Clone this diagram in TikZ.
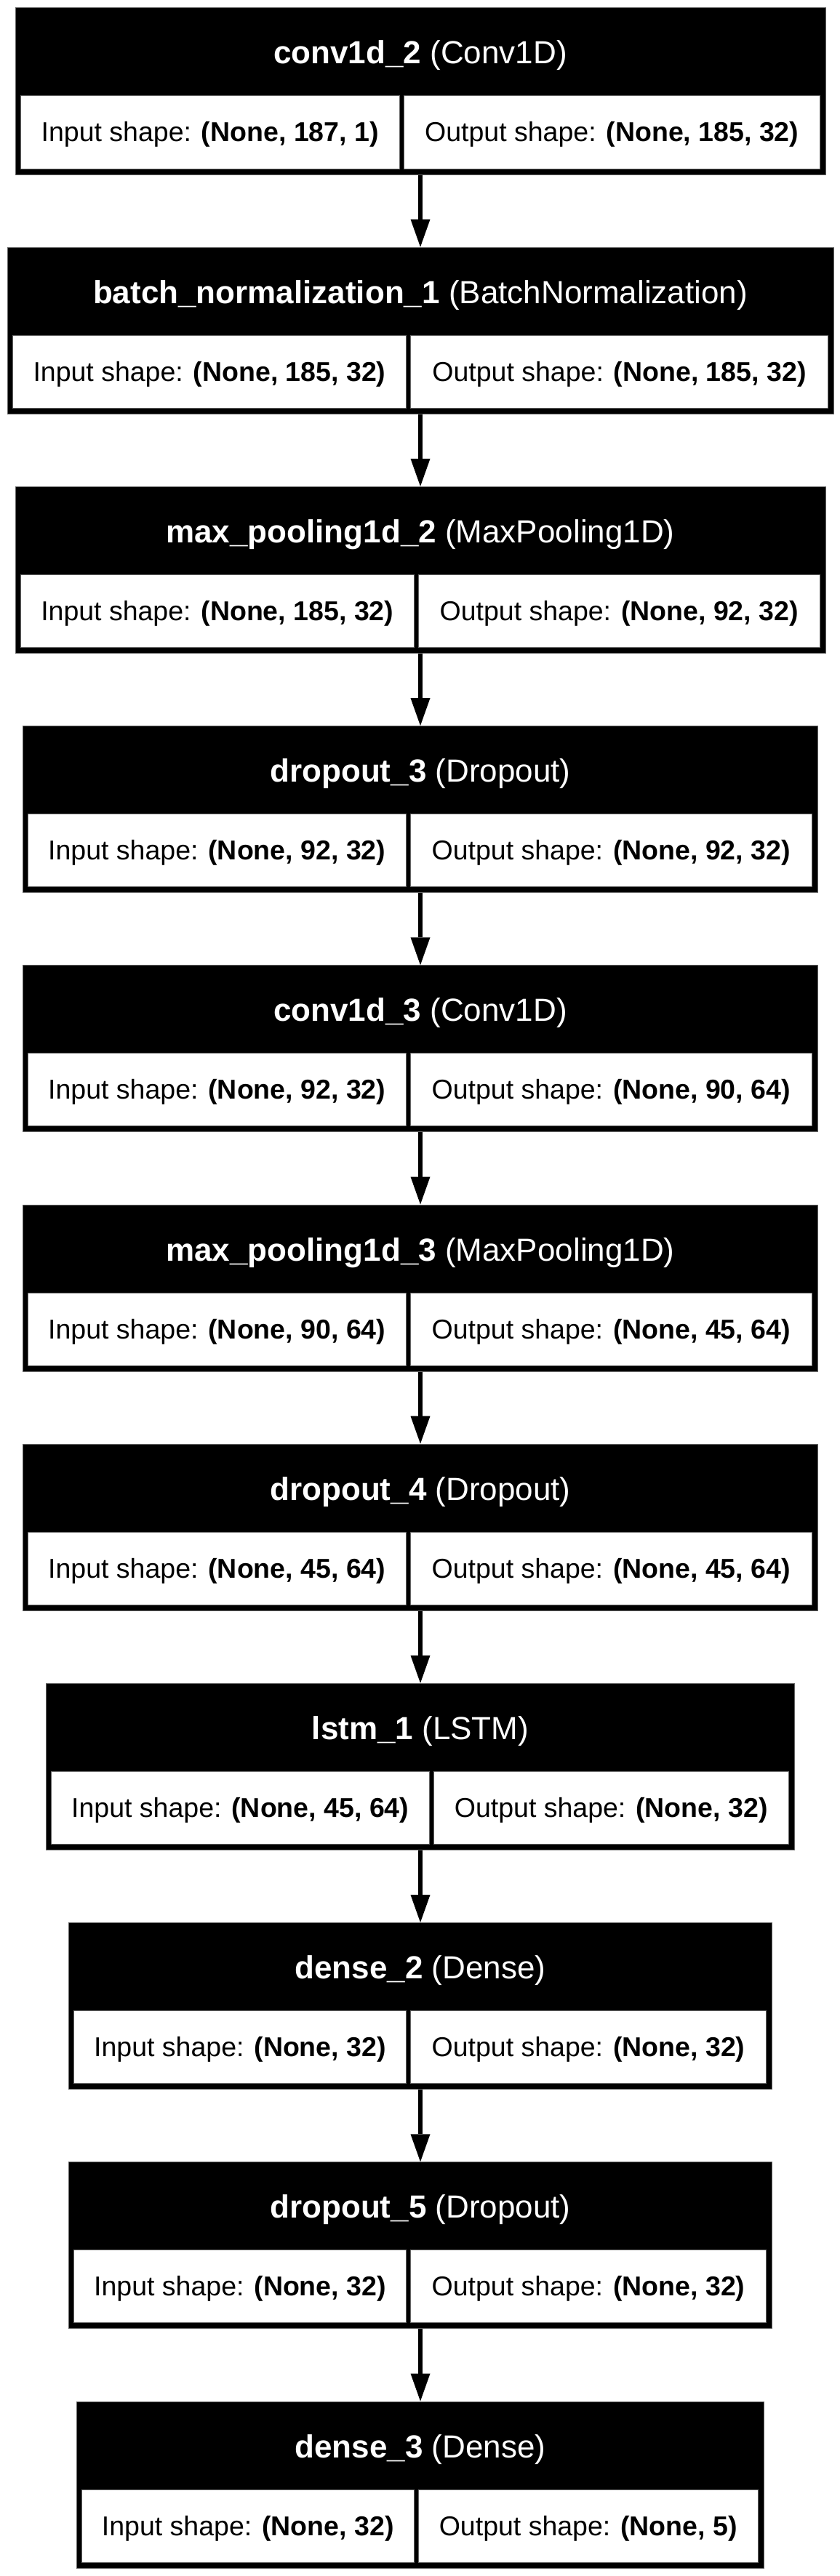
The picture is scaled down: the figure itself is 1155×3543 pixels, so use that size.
\documentclass[tikz,border=0pt]{standalone}
\usepackage{fontspec}
\setmainfont{Liberation Sans}
\usetikzlibrary{arrows.meta}
\begin{document}
\begin{tikzpicture}[x=1pt, y=-1pt]
	\tikzstyle{layer} = [rectangle, fill=black, draw=black!60, line width=1pt, minimum height=229pt, inner sep=0pt]
	\tikzstyle{title} = [text=white, inner sep=0pt, text height=32pt, text depth=0pt, font=\fontsize{44}{53}\selectfont]
	\tikzstyle{cell} = [rectangle, fill=white, draw=black!60, line width=1pt, minimum height=100pt, inner xsep=10pt, text height=27pt, text depth=1pt, font=\fontsize{37.5}{45}\selectfont]
	\tikzstyle{incell} = [cell, anchor=west]
	\tikzstyle{outcell} = [cell, anchor=east]
	\path[use as bounding box, fill=white] (0,0) rectangle (1155,3543);
	\node[layer, minimum width=1114pt] (conv2) at (578,125.5) {};
	\node[title] (conv2name) at (578,72) {\textbf{conv1d\_2} (Conv1D)};
	\node[incell, minimum width=520.5pt] (conv2in) at (28,182) {Input shape: \textbf{(None, 187, 1)}};
	\node[outcell, minimum width=572.5pt] (conv2out) at (1128,182) {Output shape: \textbf{(None, 185, 32)}};
	\node[layer, minimum width=1136pt] (bn1) at (578,454.7) {};
	\node[title] (bn1name) at (578,401.2) {\textbf{batch\_normalization\_1} (BatchNormalization)};
	\node[incell, minimum width=541pt] (bn1in) at (17,511.2) {Input shape: \textbf{(None, 185, 32)}};
	\node[outcell, minimum width=574pt] (bn1out) at (1139,511.2) {Output shape: \textbf{(None, 185, 32)}};
	\node[layer, minimum width=1114pt] (pool2) at (578,783.9) {};
	\node[title] (pool2name) at (578,730.4) {\textbf{max\_pooling1d\_2} (MaxPooling1D)};
	\node[incell, minimum width=540.5pt] (pool2in) at (28,840.4) {Input shape: \textbf{(None, 185, 32)}};
	\node[outcell, minimum width=552.5pt] (pool2out) at (1128,840.4) {Output shape: \textbf{(None, 92, 32)}};
	\node[layer, minimum width=1093pt] (drop3) at (578,1113.1) {};
	\node[title] (drop3name) at (578,1059.6) {\textbf{dropout\_3} (Dropout)};
	\node[incell, minimum width=519.5pt] (drop3in) at (38,1169.6) {Input shape: \textbf{(None, 92, 32)}};
	\node[outcell, minimum width=552.5pt] (drop3out) at (1117,1169.6) {Output shape: \textbf{(None, 92, 32)}};
	\node[layer, minimum width=1093pt] (conv3) at (578,1442.3) {};
	\node[title] (conv3name) at (578,1388.8) {\textbf{conv1d\_3} (Conv1D)};
	\node[incell, minimum width=519.5pt] (conv3in) at (38,1498.8) {Input shape: \textbf{(None, 92, 32)}};
	\node[outcell, minimum width=552.5pt] (conv3out) at (1117,1498.8) {Output shape: \textbf{(None, 90, 64)}};
	\node[layer, minimum width=1093pt] (pool3) at (578,1771.5) {};
	\node[title] (pool3name) at (578,1718) {\textbf{max\_pooling1d\_3} (MaxPooling1D)};
	\node[incell, minimum width=519.5pt] (pool3in) at (38,1828) {Input shape: \textbf{(None, 90, 64)}};
	\node[outcell, minimum width=552.5pt] (pool3out) at (1117,1828) {Output shape: \textbf{(None, 45, 64)}};
	\node[layer, minimum width=1093pt] (drop4) at (578,2100.7) {};
	\node[title] (drop4name) at (578,2047.2) {\textbf{dropout\_4} (Dropout)};
	\node[incell, minimum width=519.5pt] (drop4in) at (38,2157.2) {Input shape: \textbf{(None, 45, 64)}};
	\node[outcell, minimum width=552.5pt] (drop4out) at (1117,2157.2) {Output shape: \textbf{(None, 45, 64)}};
	\node[layer, minimum width=1029pt] (lstm1) at (578,2429.9) {};
	\node[title] (lstm1name) at (578,2376.4) {\textbf{lstm\_1} (LSTM)};
	\node[incell, minimum width=519.5pt] (lstm1in) at (70,2486.4) {Input shape: \textbf{(None, 45, 64)}};
	\node[outcell, minimum width=488.5pt] (lstm1out) at (1085,2486.4) {Output shape: \textbf{(None, 32)}};
	\node[layer, minimum width=967pt] (dense2) at (578,2759.1) {};
	\node[title] (dense2name) at (578,2705.6) {\textbf{dense\_2} (Dense)};
	\node[incell, minimum width=457pt] (dense2in) at (101,2815.6) {Input shape: \textbf{(None, 32)}};
	\node[outcell, minimum width=489pt] (dense2out) at (1054,2815.6) {Output shape: \textbf{(None, 32)}};
	\node[layer, minimum width=967pt] (drop5) at (578,3088.3) {};
	\node[title] (drop5name) at (578,3034.8) {\textbf{dropout\_5} (Dropout)};
	\node[incell, minimum width=457pt] (drop5in) at (101,3144.8) {Input shape: \textbf{(None, 32)}};
	\node[outcell, minimum width=489pt] (drop5out) at (1054,3144.8) {Output shape: \textbf{(None, 32)}};
	\node[layer, minimum width=945pt] (dense3) at (578,3417.5) {};
	\node[title] (dense3name) at (578,3364) {\textbf{dense\_3} (Dense)};
	\node[incell, minimum width=456.5pt] (dense3in) at (112,3474) {Input shape: \textbf{(None, 32)}};
	\node[outcell, minimum width=467.5pt] (dense3out) at (1043,3474) {Output shape: \textbf{(None, 5)}};
	\path[-{Triangle[length=38pt, width=27pt, line width=0pt]}, line width=6pt] (conv2) edge (bn1)
	(bn1) edge (pool2)
	(pool2) edge (drop3)
	(drop3) edge (conv3)
	(conv3) edge (pool3)
	(pool3) edge (drop4)
	(drop4) edge (lstm1)
	(lstm1) edge (dense2)
	(dense2) edge (drop5)
	(drop5) edge (dense3);
\end{tikzpicture}
\end{document}
